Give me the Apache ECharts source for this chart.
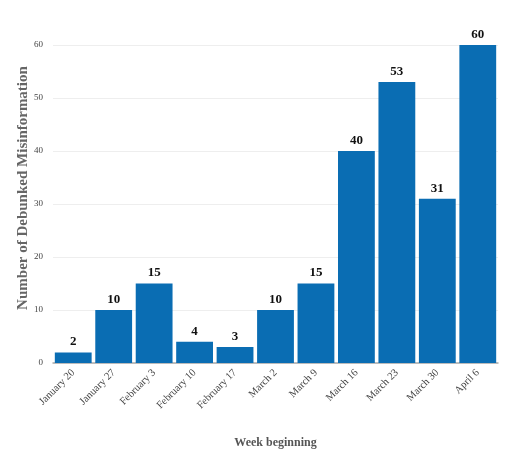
<!DOCTYPE html>
<html><head><meta charset="utf-8">
<script src="https://cdn.jsdelivr.net/npm/echarts@6/dist/echarts.min.js"></script>
<style>html,body{margin:0;padding:0;background:#fff}#c{width:509px;height:454px}</style>
</head><body><div id="c"></div>
<script>
const categories = ["January 20","January 27","February 3","February 10","February 17","March 2","March 9","March 16","March 23","March 30","April 6"];
const values = [2,10,15,4,3,10,15,40,53,31,60];
const yTicks = [0,10,20,30,40,50,60];

const chart = echarts.init(document.getElementById('c'), null, {renderer:'canvas'});
const serif = '"Liberation Serif", "DejaVu Serif", serif';
chart.setOption({
  animation:false,
  backgroundColor:'#fff',
  grid:{left:53,right:11,top:45,bottom:91,containLabel:false},
  xAxis:{
    type:'category',data:categories,
    name:'Week beginning',nameLocation:'middle',nameGap:74,
    nameTextStyle:{fontFamily:serif,fontSize:12,fontWeight:'bold',color:'#555'},
    axisLine:{lineStyle:{color:'#aaa',width:1.5}},
    axisTick:{show:false},
    axisLabel:{rotate:45,fontFamily:serif,fontSize:10.5,color:'#444',interval:0,margin:8}
  },
  yAxis:{
    type:'value',min:yTicks[0],max:yTicks[yTicks.length-1],interval:10,
    name:'Number of Debunked Misinformation',nameLocation:'middle',nameGap:22,nameRotate:90,
    nameMoveOverlap:false,
    nameTextStyle:{fontFamily:serif,fontSize:15,fontWeight:'bold',color:'#666',padding:[0,0,0,32]},
    axisLine:{show:false},axisTick:{show:false},
    axisLabel:{fontFamily:serif,fontSize:9,color:'#444',margin:10},
    splitLine:{lineStyle:{color:'#eee',width:1}}
  },
  series:[{
    type:'bar',data:values,barCategoryGap:'9%',
    itemStyle:{color:'#0a6db3'},
    label:{show:true,position:'top',fontFamily:serif,fontSize:13,fontWeight:'bold',color:'#111',distance:4}
  }]
});
</script></body></html>
